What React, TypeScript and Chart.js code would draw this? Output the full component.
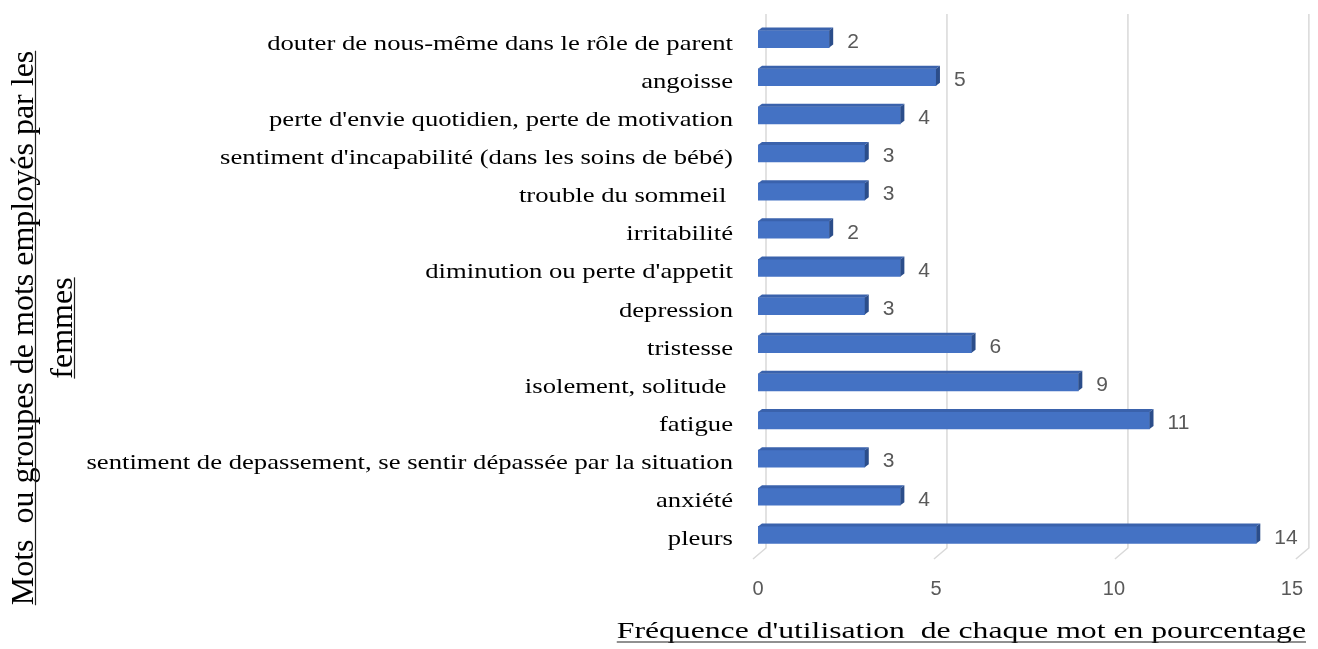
import React, { useEffect, useRef } from "react";
import { Chart, registerables } from "chart.js";

Chart.register(...registerables);

const categories = [
  "douter de nous-même dans le rôle de parent",
  "angoisse",
  "perte d'envie quotidien, perte de motivation",
  "sentiment d'incapabilité (dans les soins de bébé)",
  "trouble du sommeil ",
  "irritabilité",
  "diminution ou perte d'appetit",
  "depression",
  "tristesse",
  "isolement, solitude ",
  "fatigue",
  "sentiment de depassement, se sentir dépassée par la situation",
  "anxiété",
  "pleurs",
];
const values = [2, 5, 4, 3, 3, 2, 4, 3, 6, 9, 11, 3, 4, 14];
const xTicks = [0, 5, 10, 15];
const yTitleLines = ["Mots  ou groupes de mots employés par les", "femmes"];
const xTitle = "Fréquence d'utilisation  de chaque mot en pourcentage";

const decoPlugin = {
  id: "deco3d",
  beforeDatasetsDraw(chart: any) {
    const { ctx, chartArea, scales } = chart;
    const x = scales.x;
    ctx.save();
    ctx.strokeStyle = "#D9D9D9";
    ctx.lineWidth = 1.5;
    for (const v of xTicks) {
      const fx = x.getPixelForValue(v);
      const bx = fx + 8 + v * 0.6;
      ctx.beginPath();
      ctx.moveTo(bx, chartArea.top - 6);
      ctx.lineTo(bx, chartArea.bottom - 6);
      ctx.lineTo(bx - 13, chartArea.bottom + 5);
      ctx.stroke();
    }
    ctx.restore();
  },
  afterDatasetsDraw(chart: any) {
    const { ctx, chartArea, scales } = chart;
    const meta = chart.getDatasetMeta(0);
    ctx.save();
    meta.data.forEach((el: any, i: number) => {
      const p = el.getProps(["x", "y", "base", "height"], true);
      const ex = p.x, y = p.y, base = p.base, h = p.height;
      const top = y - h / 2, bot = y + h / 2;
      const dx = 4, dy = 3;
      ctx.fillStyle = "#3A62AC";
      ctx.beginPath();
      ctx.moveTo(base, top);
      ctx.lineTo(base + dx, top - dy);
      ctx.lineTo(ex + dx, top - dy);
      ctx.lineTo(ex, top);
      ctx.closePath();
      ctx.fill();
      ctx.fillStyle = "#2B4D8A";
      ctx.beginPath();
      ctx.moveTo(ex, top);
      ctx.lineTo(ex + dx, top - dy);
      ctx.lineTo(ex + dx, bot - dy);
      ctx.lineTo(ex, bot);
      ctx.closePath();
      ctx.fill();
      ctx.fillStyle = "#595959";
      ctx.font = '21px "Liberation Sans"';
      ctx.textAlign = "left";
      ctx.textBaseline = "middle";
      ctx.fillText(String(values[i]), ex + 18, y + 3);
    });
    const yS = scales.y;
    ctx.font = '21px "Liberation Serif"';
    ctx.fillStyle = "#000";
    ctx.textAlign = "right";
    ctx.textBaseline = "middle";
    categories.forEach((c, i) => {
      const cy = yS.getPixelForValue(i);
      ctx.save();
      ctx.translate(chartArea.left - 25, cy + 5);
      ctx.scale(1.27, 1);
      ctx.fillText(c, 0, 0);
      ctx.restore();
    });
    // y title
    ctx.font = '32px "Liberation Serif"';
    ctx.textAlign = "center";
    ctx.textBaseline = "alphabetic";
    ctx.strokeStyle = "#222";
    ctx.lineWidth = 1.2;
    const baseXs = [33, 72];
    yTitleLines.forEach((t, i) => {
      ctx.save();
      ctx.translate(baseXs[i], 328);
      ctx.rotate(-Math.PI / 2);
      ctx.fillText(t, 0, 0);
      const w = ctx.measureText(t).width;
      ctx.beginPath();
      ctx.moveTo(-w / 2, 2.5);
      ctx.lineTo(w / 2, 2.5);
      ctx.stroke();
      ctx.restore();
    });
    // x title
    ctx.save();
    ctx.font = '24px "Liberation Serif"';
    ctx.textAlign = "right";
    ctx.textBaseline = "alphabetic";
    ctx.translate(1306, 638);
    ctx.scale(1.32, 1);
    ctx.fillText(xTitle, 0, 0);
    const wx = ctx.measureText(xTitle).width;
    ctx.beginPath();
    ctx.moveTo(-wx, 4);
    ctx.lineTo(0, 4);
    ctx.lineWidth = 1.2 / 1.32;
    ctx.stroke();
    ctx.restore();
    ctx.restore();
  },
};

export default function App() {
  const ref = useRef<HTMLCanvasElement | null>(null);
  useEffect(() => {
    if (!ref.current) return;
    const chart = new Chart(ref.current, {
      type: "bar",
      data: {
        labels: categories,
        datasets: [
          {
            data: values,
            backgroundColor: "#4472C4",
            borderWidth: 0,
            barThickness: 17,
          },
        ],
      },
      options: {
        indexAxis: "y",
        animation: false,
        responsive: true,
        maintainAspectRatio: false,
        layout: { padding: { top: 20, right: 16, left: 0, bottom: 0 } },
        plugins: { legend: { display: false }, tooltip: { enabled: false } },
        scales: {
          x: {
            min: 0,
            max: 15,
            grid: { display: false },
            border: { display: false },
            ticks: {
              stepSize: 5,
              padding: 15,
              color: "#595959",
              font: { family: "Liberation Sans", size: 20 },
            },
            afterFit: (s: any) => {
              s.height = 95;
            },
          },
          y: {
            grid: { display: false },
            border: { display: false },
            ticks: { display: false },
            afterFit: (s: any) => {
              s.width = 758;
            },
          },
        },
      },
      plugins: [decoPlugin],
    } as any);
    return () => chart.destroy();
  }, []);
  return (
    <div style={{ position: "fixed", left: 0, top: 0, width: 1318, height: 649 }}>
      <canvas ref={ref} />
    </div>
  );
}
